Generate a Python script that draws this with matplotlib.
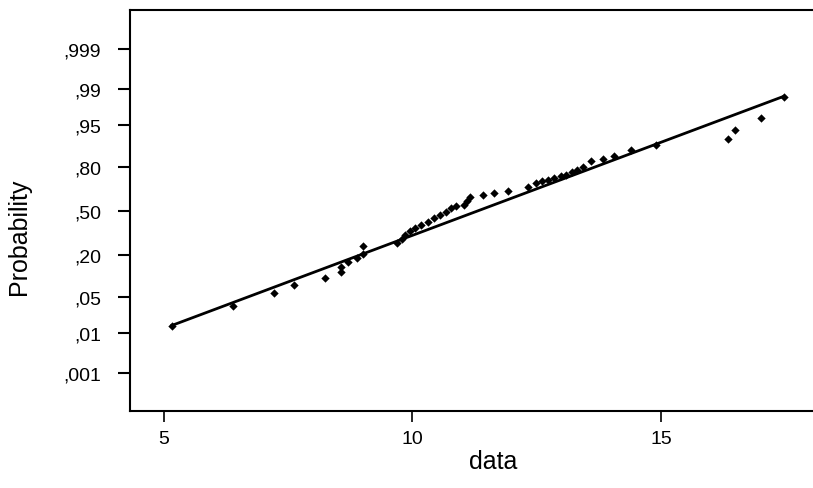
import numpy as np
import matplotlib
matplotlib.use("Agg")
import matplotlib.pyplot as plt
from statistics import NormalDist

plt.rcParams['font.family'] = ['Liberation Sans', 'DejaVu Sans']

data = [5.16, 6.39, 7.21, 7.62, 8.24, 8.56, 8.56, 8.71, 8.88, 9.00,
        9.00, 9.69, 9.79, 9.85, 9.95, 10.05, 10.18, 10.31, 10.43, 10.55,
        10.68, 10.78, 10.88, 11.04, 11.10, 11.16, 11.43, 11.64, 11.92, 12.33,
        12.48, 12.60, 12.73, 12.85, 12.99, 13.09, 13.21, 13.31, 13.43, 13.60,
        13.83, 14.05, 14.40, 14.90, 16.35, 16.49, 17.02, 17.47]
prob = [0.0139, 0.0347, 0.0574, 0.0785, 0.100, 0.120, 0.140, 0.165, 0.182, 0.206,
        0.249, 0.270, 0.296, 0.320, 0.351, 0.376, 0.394, 0.413, 0.443, 0.466,
        0.496, 0.519, 0.538, 0.546, 0.576, 0.606, 0.617, 0.635, 0.652, 0.680,
        0.707, 0.714, 0.723, 0.736, 0.751, 0.754, 0.772, 0.781, 0.800, 0.830,
        0.840, 0.854, 0.878, 0.897, 0.916, 0.939, 0.962, 0.985]

# fitted normal reference line
mu = 11.31
sigma = 2.81

prob_ticks = [0.001, 0.01, 0.05, 0.20, 0.50, 0.80, 0.95, 0.99, 0.999]
prob_labels = [',001', ',01', ',05', ',20', ',50', ',80', ',95', ',99', ',999']
x_ticks = [5, 10, 15]

nd = NormalDist()
z = [nd.inv_cdf(p) for p in prob]
zt = [nd.inv_cdf(p) for p in prob_ticks]

fig = plt.figure(figsize=(8.13, 4.89), dpi=100)
ax = fig.add_axes([0.160, 0.1575, 0.84, 0.82])

xl = np.array([min(data), max(data)])
ax.plot(xl, (xl - mu) / sigma, color='black', lw=2.0)
ax.scatter(data, z, s=18, marker='D', color='black', zorder=3, linewidths=0)

ax.set_xlim(4.32, 18.06)
ax.set_ylim(-3.824, 3.843)
ax.set_xticks(x_ticks)
ax.set_yticks(zt)
ax.set_yticklabels(prob_labels)

for s in ['left', 'bottom', 'top']:
    ax.spines[s].set_linewidth(1.5)
ax.spines['right'].set_visible(False)

ax.tick_params(axis='y', length=9, width=1.5, labelsize=14, pad=12)
ax.tick_params(axis='x', length=8, width=1.2, labelsize=14, pad=6)

ax.set_xlabel('data', fontsize=18)
ax.set_ylabel('Probability', fontsize=18)
ax.xaxis.set_label_coords(0.531, -0.095)
ax.yaxis.set_label_coords(-0.145, 0.436)

fig.savefig('out.png', dpi=100)
